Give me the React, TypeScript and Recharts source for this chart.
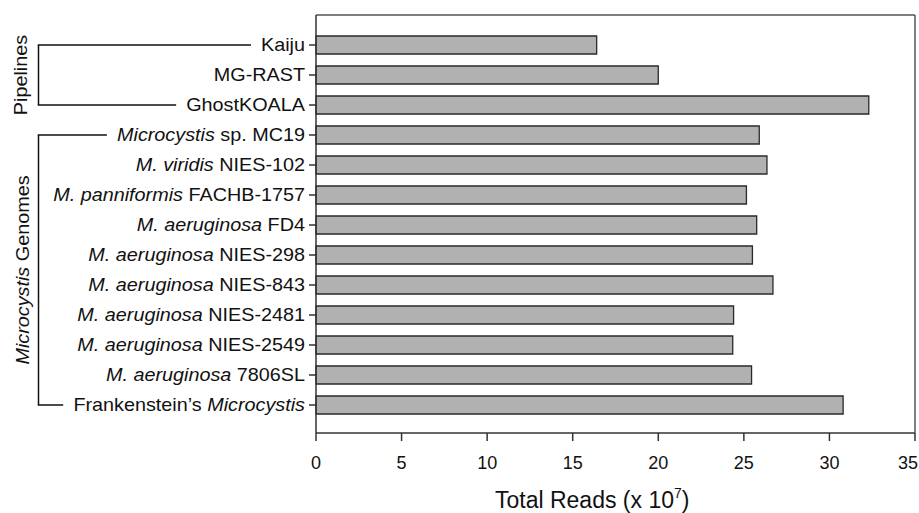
import { Bar, BarChart, Label, XAxis, YAxis } from 'recharts';

const categories = [
  'Kaiju',
  'MG-RAST',
  'GhostKOALA',
  '*Microcystis* sp. MC19',
  '*M. viridis* NIES-102',
  '*M. panniformis* FACHB-1757',
  '*M. aeruginosa* FD4',
  '*M. aeruginosa* NIES-298',
  '*M. aeruginosa* NIES-843',
  '*M. aeruginosa* NIES-2481',
  '*M. aeruginosa* NIES-2549',
  '*M. aeruginosa* 7806SL',
  'Frankenstein\u2019s *Microcystis*',
];
const totalReads = [16.4, 20.0, 32.3, 25.9, 26.35, 25.15, 25.75, 25.5, 26.7, 24.4, 24.35, 25.45, 30.8];
const xTicks = [0, 5, 10, 15, 20, 25, 30, 35];
const groups = [
  { label: 'Pipelines', from: 0, to: 2 },
  { label: '*Microcystis* Genomes', from: 3, to: 12 },
];

const data = categories.map((name, i) => ({ name, value: totalReads[i] }));

const FONT = '"Liberation Sans", Arial, Helvetica, sans-serif';
const TEXT = '#111';
const LINE = '#333';
const FS = 18;
const STRETCH = 1.1;
const BRACKET_X = 38.5;
const GAP = 10;

// "*x*" marks italic pieces
const parts = (s: string) =>
  s.split('*').map((t, i) => ({ t, it: i % 2 === 1 })).filter((p) => p.t.length > 0);

let ctx: CanvasRenderingContext2D | null = null;
const textWidth = (s: string) => {
  if (!ctx) ctx = document.createElement('canvas').getContext('2d');
  if (!ctx) return s.length * FS * 0.55;
  let w = 0;
  for (const p of parts(s)) {
    ctx.font = `${p.it ? 'italic ' : ''}${FS}px "Liberation Sans"`;
    w += ctx.measureText(p.t).width;
  }
  return w * STRETCH;
};

const RichText = ({ s }: { s: string }) => (
  <>
    {parts(s).map((p, i) => (
      <tspan key={i} fontStyle={p.it ? 'italic' : 'normal'}>
        {p.t}
      </tspan>
    ))}
  </>
);

const CategoryTick = (props: any) => {
  const { x, y, payload } = props;
  const i: number = payload.index ?? categories.indexOf(payload.value);
  const half: number = payload.offset || 15;
  const label: string = payload.value;
  const g = groups.find((gr) => i >= gr.from && i <= gr.to);
  const textStart = x - textWidth(label) - GAP;

  return (
    <g>
      <text
        transform={`translate(${x} ${y}) scale(${STRETCH} 1)`}
        textAnchor="end"
        dy="0.36em"
        fontSize={FS}
        fontFamily={FONT}
        fill={TEXT}
      >
        <RichText s={label} />
      </text>
      {g && (
        <line
          x1={BRACKET_X}
          x2={BRACKET_X}
          y1={i === g.from ? y : y - half}
          y2={i === g.to ? y : y + half}
          stroke={TEXT}
          strokeWidth={1.5}
        />
      )}
      {g && (i === g.from || i === g.to) && (
        <line x1={BRACKET_X - 0.75} x2={textStart} y1={y} y2={y} stroke={TEXT} strokeWidth={1.5} />
      )}
      {g && i === g.from && (
        <text
          transform={`translate(${g.label === 'Pipelines' ? 27 : 29} ${y + (g.to - g.from) * half}) rotate(-90) scale(${STRETCH} 1)`}
          textAnchor="middle"
          fontSize={FS}
          fontFamily={FONT}
          fill={TEXT}
        >
          <RichText s={g.label} />
        </text>
      )}
    </g>
  );
};

const ValueTick = (props: any) => {
  const { x, y, payload } = props;
  const last = payload.value === xTicks[xTicks.length - 1];
  return (
    <text
      x={last ? x + 3 : x}
      y={y}
      dy="0.71em"
      textAnchor={last ? 'end' : 'middle'}
      fontSize={FS}
      fontFamily={FONT}
      fill={TEXT}
    >
      {payload.value}
    </text>
  );
};

const XTitle = (props: any) => {
  const { x, y } = props.viewBox;
  return (
    <text x={x + 179} y={y + 75} textAnchor="start" fontSize={23} fontFamily={FONT} fill={TEXT}>
      Total Reads (x 10
      <tspan fontSize={14} dy={-10}>
        7
      </tspan>
      <tspan dy={10}>)</tspan>
    </text>
  );
};

export default function App() {
  return (
    <div style={{ position: 'absolute', left: 0, top: 0, background: '#fff' }}>
      <BarChart
        width={919}
        height={513}
        data={data}
        layout="vertical"
        margin={{ top: 14, right: 3, left: 0, bottom: 0 }}
      >
        <XAxis
          type="number"
          domain={[0, 35]}
          ticks={xTicks}
          interval={0}
          height={80}
          tickSize={8}
          tickMargin={15}
          axisLine={{ stroke: LINE, strokeWidth: 1.5 }}
          tickLine={{ stroke: LINE, strokeWidth: 1.5 }}
          tick={<ValueTick />}
        >
          <Label content={XTitle} />
        </XAxis>
        <XAxis
          xAxisId="top"
          orientation="top"
          type="number"
          domain={[0, 35]}
          height={1}
          tick={false}
          tickLine={false}
          axisLine={{ stroke: '#555', strokeWidth: 1.5 }}
        />
        <YAxis
          type="category"
          dataKey="name"
          width={316}
          interval={0}
          padding={{ top: 15, bottom: 13 }}
          tickSize={7}
          tickMargin={4}
          axisLine={{ stroke: LINE, strokeWidth: 1.5 }}
          tickLine={{ stroke: LINE, strokeWidth: 1.5 }}
          tick={<CategoryTick />}
        />
        <YAxis
          yAxisId="right"
          orientation="right"
          type="category"
          dataKey="name"
          width={1}
          tick={false}
          tickLine={false}
          axisLine={{ stroke: '#555', strokeWidth: 1.5 }}
        />
        <Bar
          dataKey="value"
          barSize={18}
          fill="#b1b1b1"
          stroke="#2a2a2a"
          strokeWidth={1.3}
          isAnimationActive={false}
        />
      </BarChart>
    </div>
  );
}
